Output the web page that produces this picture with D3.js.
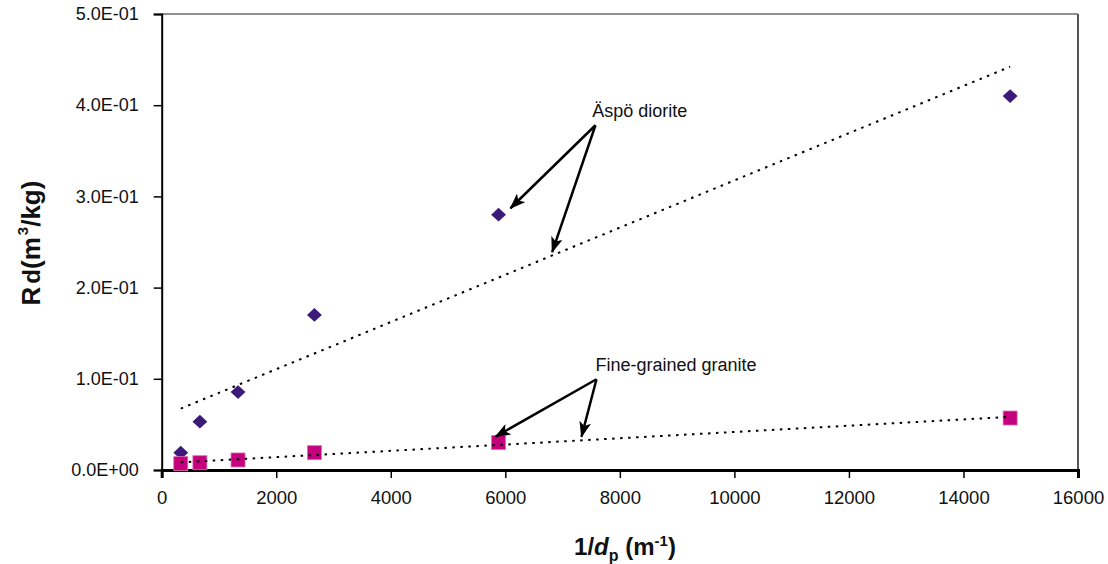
<!DOCTYPE html>
<html>
<head>
<meta charset="utf-8">
<script src="https://cdn.jsdelivr.net/npm/d3@7"></script>
<style>
  body { margin: 0; background: #fff; }
  text { font-family: "Liberation Sans", Arial, sans-serif; }
</style>
</head>
<body>
<div id="chart"></div>
<script>
// values
const invDp = [333, 667, 1333, 2667, 5882, 14815];          // 1/dp (m-1)
const rdDiorite = [0.019, 0.053, 0.0855, 0.17, 0.28, 0.41];   // Äspö diorite
const rdGranite = [0.007, 0.008, 0.011, 0.019, 0.030, 0.057]; // Fine-grained granite
const xTicks = [0, 2000, 4000, 6000, 8000, 10000, 12000, 14000, 16000];
const yTicks = [0, 0.1, 0.2, 0.3, 0.4, 0.5];

// annotation anchors, in data units
const dioriteLabel = { text: 'Äspö diorite', x: 7517, y: 0.387, from: [7574, 0.378], to: [[6089, 0.287], [6818, 0.239]] };
const graniteLabel = { text: 'Fine-grained granite', x: 7574, y: 0.109, from: [7592, 0.0995], to: [[5826, 0.0365], [7330, 0.0365]] };

const width = 1108;
const height = 564;
const margin = { left: 161.7, right: 30, top: 14, bottom: 94 };

const svg = d3.select('#chart')
    .append('svg')
    .attr('width', width)
    .attr('height', height);

svg.append('rect').attr('width', width).attr('height', height).attr('fill', '#fff');

const x = d3.scaleLinear().domain([0, 16000]).range([margin.left, width - margin.right]);
const y = d3.scaleLinear().domain([0, 0.5]).range([height - margin.bottom, margin.top]);

// excel style labels, 5.0E-01
function sci(d) {
    if (d === 0) return '0.0E+00';
    const parts = d.toExponential(1).split('e');
    const sign = parts[1][0];
    const exp = parts[1].slice(1).padStart(2, '0');
    return parts[0] + 'E' + sign + exp;
}

// plot frame top and right
svg.append('line')
    .attr('x1', x(0)).attr('x2', x(16000))
    .attr('y1', y(0.5)).attr('y2', y(0.5))
    .attr('stroke', '#222').attr('stroke-width', 1.2);
svg.append('line')
    .attr('x1', x(16000)).attr('x2', x(16000))
    .attr('y1', y(0.5)).attr('y2', y(0))
    .attr('stroke', '#555').attr('stroke-width', 2);

const xAxis = svg.append('g')
    .attr('transform', `translate(0,${y(0)})`)
    .call(d3.axisBottom(x).tickValues(xTicks).tickSize(8).tickPadding(13).tickFormat(d3.format('d')));
xAxis.select('.domain').attr('stroke', '#000').attr('stroke-width', 3);
xAxis.selectAll('.tick line').attr('stroke-width', 1.5);
xAxis.selectAll('text').attr('font-size', 18.5).attr('fill', '#111')
    .style('font-family', '"Liberation Sans", Arial, sans-serif');

const yAxis = svg.append('g')
    .attr('transform', `translate(${x(0)},0)`)
    .call(d3.axisLeft(y).tickValues(yTicks).tickSize(8).tickPadding(15).tickFormat(sci));
yAxis.select('.domain').attr('stroke', '#000').attr('stroke-width', 2);
yAxis.selectAll('.tick line').attr('stroke-width', 1.5);
yAxis.selectAll('text').attr('font-size', 18).attr('fill', '#111')
    .style('font-family', '"Liberation Sans", Arial, sans-serif');

// linear trend lines, least squares like excel
function fit(xs, ys) {
    const mx = d3.mean(xs), my = d3.mean(ys);
    let sxy = 0, sxx = 0;
    xs.forEach((v, i) => { sxy += (v - mx) * (ys[i] - my); sxx += (v - mx) * (v - mx); });
    const b = sxy / sxx;
    return { a: my - b * mx, b: b };
}

function trend(ys) {
    const f = fit(invDp, ys);
    const x0 = d3.min(invDp), x1 = d3.max(invDp);
    svg.append('line')
        .attr('x1', x(x0)).attr('y1', y(f.a + f.b * x0))
        .attr('x2', x(x1)).attr('y2', y(f.a + f.b * x1))
        .attr('stroke', '#000')
        .attr('stroke-width', 2)
        .attr('stroke-dasharray', '2.5,5.5');
}

trend(rdDiorite);

// diorite diamonds
svg.selectAll('.diorite')
    .data(invDp.map((d, i) => [d, rdDiorite[i]]))
    .enter()
    .append('path')
    .attr('class', 'diorite')
    .attr('d', d3.symbol().type(d3.symbolDiamond2).size(140))
    .attr('transform', d => `translate(${x(d[0])},${y(d[1])}) scale(1.0,0.93)`)
    .attr('fill', '#3b1a7a');

// granite squares
svg.selectAll('.granite')
    .data(invDp.map((d, i) => [d, rdGranite[i]]))
    .enter()
    .append('rect')
    .attr('class', 'granite')
    .attr('x', d => x(d[0]) - 7)
    .attr('y', d => y(d[1]) - 7)
    .attr('width', 14)
    .attr('height', 14)
    .attr('fill', '#c4007c')
    .attr('stroke', '#e070b0')
    .attr('stroke-width', 0.8);

// the granite dotted line shows through the squares in the reference
trend(rdGranite);

// arrow heads
svg.append('defs').append('marker')
    .attr('id', 'head')
    .attr('viewBox', '0 0 16 12')
    .attr('refX', 15)
    .attr('refY', 6)
    .attr('markerUnits', 'userSpaceOnUse')
    .attr('markerWidth', 16)
    .attr('markerHeight', 12)
    .attr('orient', 'auto')
    .append('path')
    .attr('d', 'M0,0 L16,6 L0,12 L4,6 Z')
    .attr('fill', '#000');

[dioriteLabel, graniteLabel].forEach(lab => {
    svg.append('text')
        .attr('x', x(lab.x))
        .attr('y', y(lab.y))
        .attr('font-size', 18)
        .attr('fill', '#111')
        .text(lab.text);
    lab.to.forEach(t => {
        svg.append('line')
            .attr('x1', x(lab.from[0])).attr('y1', y(lab.from[1]))
            .attr('x2', x(t[0])).attr('y2', y(t[1]))
            .attr('stroke', '#000')
            .attr('stroke-width', 2.5)
            .attr('marker-end', 'url(#head)');
    });
});

// axis titles
const yTitle = svg.append('text')
    .attr('transform', 'translate(40,243) rotate(-90)')
    .attr('text-anchor', 'middle')
    .attr('font-weight', 'bold')
    .attr('font-size', 26)
    .attr('fill', '#111');
yTitle.append('tspan').text('R');
yTitle.append('tspan').attr('font-size', 24).attr('dx', 3).text('d');
yTitle.append('tspan').text('(m');
yTitle.append('tspan').attr('font-size', 15).attr('dy', -12).attr('dx', 2).text('3');
yTitle.append('tspan').attr('dy', 12).text('/kg)');

const xTitle = svg.append('text')
    .attr('x', 625)
    .attr('y', 555)
    .attr('text-anchor', 'middle')
    .attr('font-weight', 'bold')
    .attr('font-size', 24)
    .attr('fill', '#111');
xTitle.append('tspan').text('1/');
xTitle.append('tspan').attr('font-style', 'italic').text('d');
xTitle.append('tspan').attr('font-size', 16).attr('dy', 6).text('p');
xTitle.append('tspan').attr('dy', -6).text(' (m');
xTitle.append('tspan').attr('font-size', 15).attr('dy', -9).text('-1');
xTitle.append('tspan').attr('dy', 9).text(')');
</script>
</body>
</html>
